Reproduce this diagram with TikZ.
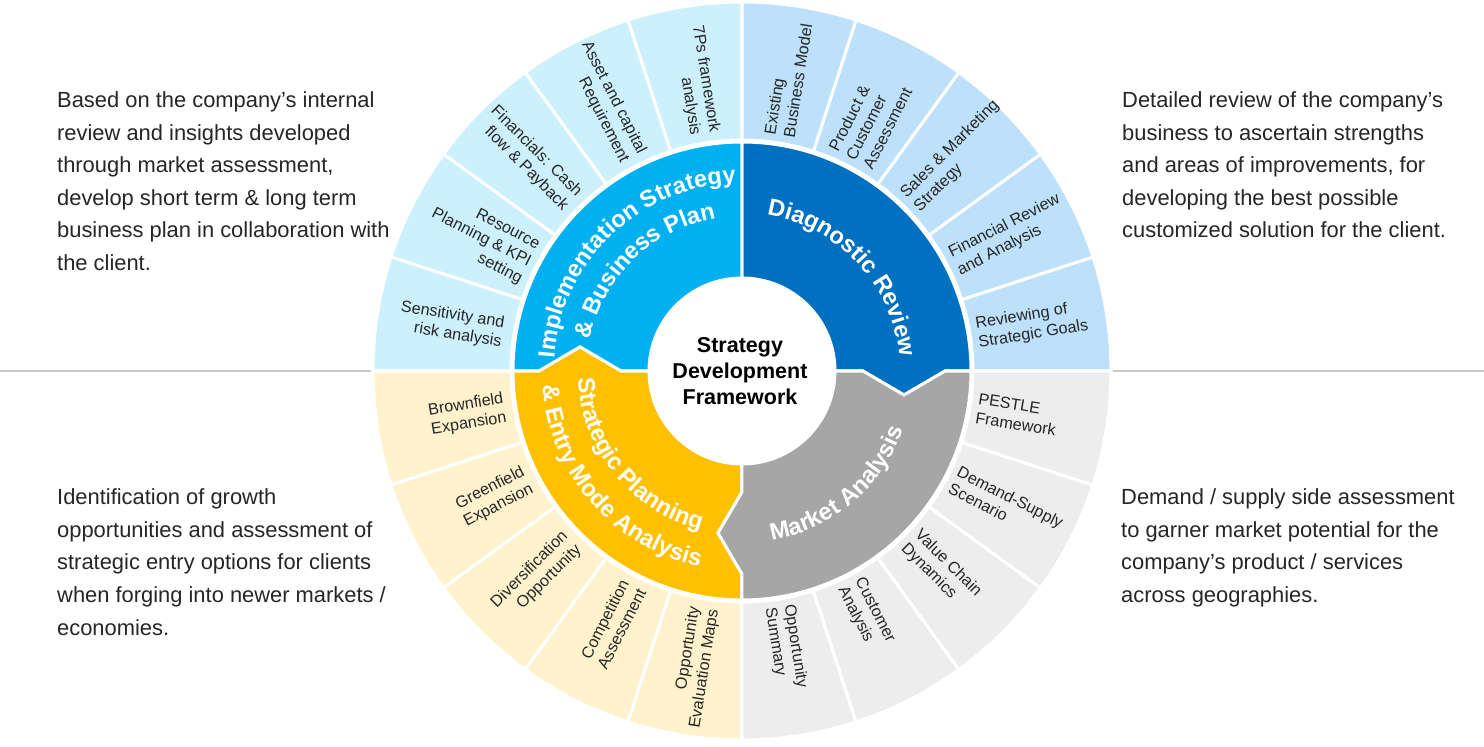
\documentclass[tikz,border=0pt]{standalone}
\usepackage{fontspec}
\setmainfont{Liberation Sans}
\usetikzlibrary{calc,decorations.text}
\definecolor{cImp}{HTML}{00B0F0}
\definecolor{cDia}{HTML}{0070C0}
\definecolor{cMkt}{HTML}{A6A6A6}
\definecolor{cStr}{HTML}{FFC000}
\definecolor{lImp}{HTML}{CCF0FC}
\definecolor{lDia}{HTML}{BDE1FA}
\definecolor{lMkt}{HTML}{EDEDED}
\definecolor{lStr}{HTML}{FFF2CC}
\definecolor{txt}{HTML}{262626}
\definecolor{ruleclr}{HTML}{C8C8C8}
\newcommand\ttlfont{\fontsize{23.7}{24}\selectfont\bfseries}
\begin{document}
\begin{tikzpicture}[x=1pt,y=1pt,
  seg/.style={draw=white, line width=3pt, line join=miter},
  lbl/.style={font=\fontsize{16.2}{19.3}\selectfont, text=txt, inner sep=0pt},
  segR/.style={lbl, anchor=west, align=left},
  segL/.style={lbl, anchor=east, align=right},
  side/.style={font=\fontsize{21.9}{32.6}\selectfont, text=txt, inner sep=0pt, anchor=north west, align=left},
  ttl/.style={decorate, decoration={text along path, text align=center, text color=white, text={#1}}}
]
\useasboundingbox (-742,-376) rectangle (742,371);
\fill[white] (-742,-376) rectangle (742,371);
% horizontal rule
\coordinate (rl1) at (-742,0);
\coordinate (rl2) at (-369,0);
\coordinate (rr1) at (369,0);
\coordinate (rr2) at (742,0);
\draw[ruleclr, line width=1pt] (rl1) -- (rl2) (rr1) -- (rr2);
% outer ring
\foreach \a/\col in {0/lDia, 90/lImp, 180/lStr, 270/lMkt} {
  \foreach \k in {0,...,4} {
    \pgfmathsetmacro\s{\a+18*\k}
    \pgfmathsetmacro\e{\s+18}
    \filldraw[fill=\col, seg] (\s:231) arc[start angle=\s, end angle=\e, radius=231]
      -- (\e:369) arc[start angle=\e, end angle=\s, radius=369] -- cycle;
  }
}
% middle ring quadrants
\filldraw[fill=cDia, seg] (0:93) -- (0:121) -- ($(0:162)+(-90:24)$) -- (0:203) -- (0:229)
  arc[start angle=0, end angle=90, radius=229] -- (90:93)
  arc[start angle=90, end angle=0, radius=93] -- cycle;
\filldraw[fill=cImp, seg] (90:93) -- (90:229)
  arc[start angle=90, end angle=180, radius=229] -- (180:203) -- ($(180:162)+(90:24)$) -- (180:121) -- (180:93)
  arc[start angle=180, end angle=90, radius=93] -- cycle;
\filldraw[fill=cStr, seg] (180:93) -- (180:121) -- ($(180:162)+(90:24)$) -- (180:203) -- (180:229)
  arc[start angle=180, end angle=270, radius=229] -- (270:203) -- ($(270:162)+(180:24)$) -- (270:121) -- (270:93)
  arc[start angle=270, end angle=180, radius=93] -- cycle;
\filldraw[fill=cMkt, seg] (270:93) -- (270:121) -- ($(270:162)+(180:24)$) -- (270:203) -- (270:229)
  arc[start angle=270, end angle=360, radius=229] -- (0:203) -- ($(0:162)+(-90:24)$) -- (0:121) -- (0:93)
  arc[start angle=360, end angle=270, radius=93] -- cycle;
% titles along arcs
\path[ttl={|\ttlfont|Implementation Strategy}] (224:188) arc[start angle=224, end angle=44, radius=188];
\path[ttl={|\ttlfont|{\&} Business Plan}] (224:155) arc[start angle=224, end angle=44, radius=155];
\path[ttl={|\ttlfont|Diagnostic Review}] (133:158) arc[start angle=133, end angle=-47, radius=158];
\path[ttl={|\ttlfont|Market Analysis}] (220:172) arc[start angle=220, end angle=400, radius=172];
\path[ttl={|\ttlfont|Strategic Planning}] (129:164) arc[start angle=129, end angle=309, radius=164];
\path[ttl={|\ttlfont|{\&} Entry Mode Analysis}] (131:200) arc[start angle=131, end angle=311, radius=200];
% centre
\node[font=\fontsize{21.5}{26}\selectfont\bfseries, align=center, inner sep=0pt] (ctr) at (-2,0) {Strategy\\Development\\Framework};
% outer labels
\node[segR, rotate=81] (dia1) at (81:238) {Existing\\Business Model};
\node[segR, rotate=63] (dia2) at (63:238) {Product \&\\Customer\\Assessment};
\node[segR, rotate=45] (dia3) at (45:238) {Sales \& Marketing\\Strategy};
\node[segR, rotate=27] (dia4) at (27:238) {Financial Review\\and Analysis};
\node[segR, rotate=9] (dia5) at (9:238) {Reviewing of\\Strategic Goals};
\node[segR, rotate=-9] (mkt1) at (-9:238) {PESTLE\\Framework};
\node[segR, rotate=-27] (mkt2) at (-27:238) {Demand-Supply\\Scenario};
\node[segR, rotate=-45] (mkt3) at (-45:238) {Value Chain\\Dynamics};
\node[segR, rotate=-63] (mkt4) at (-63:238) {Customer\\Analysis};
\node[segR, rotate=-81] (mkt5) at (-81:238) {Opportunity\\Summary};
\node[segL, rotate=9] (str1) at (189:240) {Brownfield\\Expansion};
\node[segL, rotate=27] (str2) at (207:240) {Greenfield\\Expansion};
\node[segL, rotate=45] (str3) at (225:240) {Diversification\\Opportunity};
\node[segL, rotate=63] (str4) at (243:240) {Competition\\Assessment};
\node[segL, rotate=81] (str5) at (261:240) {Opportunity\\Evaluation Maps};
\node[segL, rotate=-9] (imp1) at (171:242) {Sensitivity and\\risk analysis};
\node[segL, rotate=-27] (imp2) at (153:238) {Resource\\Planning \& KPI\\setting};
\node[segL, rotate=-45] (imp3) at (135:240) {Financials: Cash\\flow \& Payback};
\node[segL, rotate=-63] (imp4) at (117:240) {Asset and capital\\Requirement};
\node[segL, rotate=-81] (imp5) at (99:240) {7Ps framework\\analysis};
% side texts
\node[side] (tl) at (-685,279.6) {Based on the company’s internal\\review and insights developed\\through market assessment,\\develop short term \& long term\\business plan in collaboration with\\the client.};
\node[side] (tr) at (380,279.6) {Detailed review of the company’s\\business to ascertain strengths\\and areas of improvements, for\\developing the best possible\\customized solution for the client.};
\node[side] (bl) at (-685,-117.7) {Identification of growth\\opportunities and assessment of\\strategic entry options for clients\\when forging into newer markets /\\economies.};
\node[side] (br) at (379,-117.7) {Demand / supply side assessment\\to garner market potential for the\\company’s product / services\\across geographies.};
\end{tikzpicture}
\end{document}
